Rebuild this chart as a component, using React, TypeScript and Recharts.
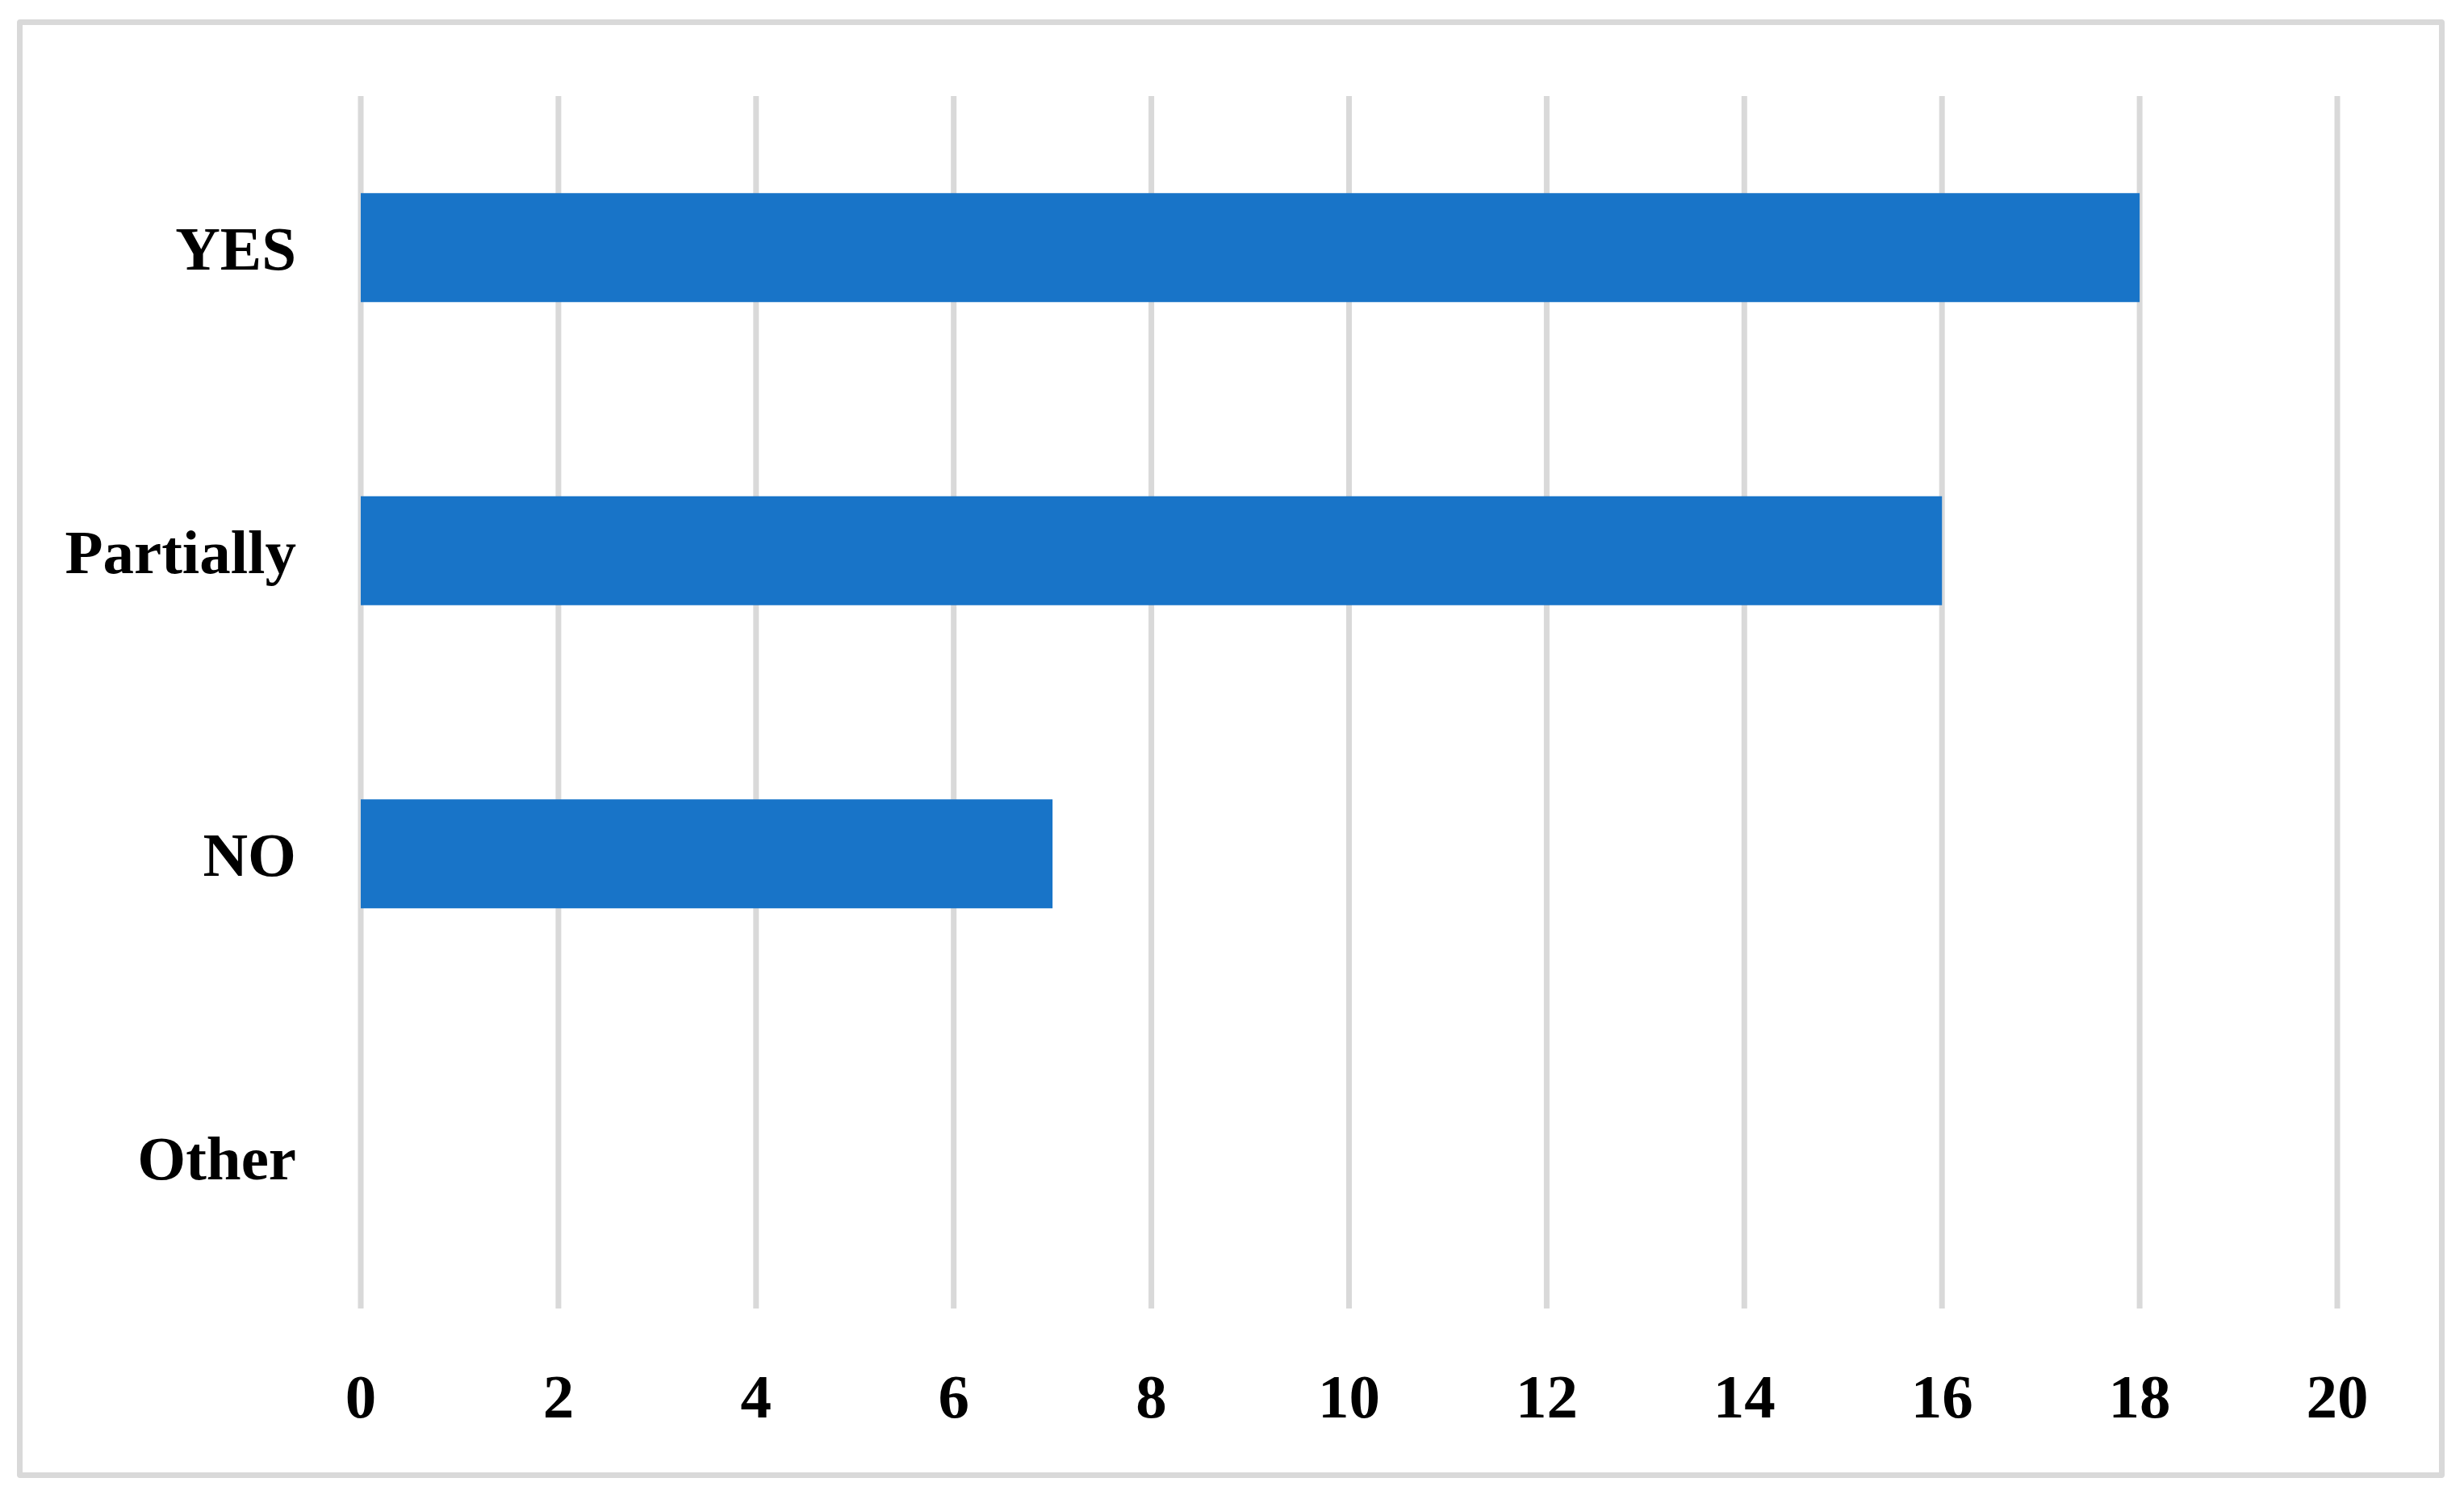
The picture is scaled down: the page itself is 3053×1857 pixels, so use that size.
import React from "react"
import { BarChart, Bar, XAxis, YAxis, CartesianGrid } from "recharts"

const categories = ["YES", "Partially", "NO", "Other"]
const counts = [18, 16, 7, 0]
const xTicks = [0, 2, 4, 6, 8, 10, 12, 14, 16, 18, 20]

const data = categories.map((name, i) => ({ name, value: counts[i] }))

const labelFont = {
  fontFamily: "'Liberation Serif', 'DejaVu Serif', serif",
  fontWeight: 700,
  fontSize: 77,
  fill: "#000000",
}

export default function App() {
  return (
    <div style={{ position: "absolute", left: 0, top: 0, width: 3053, height: 1857, background: "#ffffff" }}>
      {/* frame */}
      <div
        style={{
          position: "absolute",
          left: 21,
          top: 24,
          width: 3008 - 14,
          height: 1807 - 14,
          border: "7px solid #d9d9d9",
          borderRadius: 4,
        }}
      />
      <div style={{ position: "absolute", left: 0, top: 0 }}>
        <BarChart
          width={3053}
          height={1857}
          data={data}
          layout="vertical"
          margin={{ top: 119, right: 157, bottom: 0, left: 0 }}
          barCategoryGap="32%"
        >
          <CartesianGrid horizontal={false} vertical stroke="#d9d9d9" strokeWidth={7} />
          <XAxis
            type="number"
            domain={[0, 20]}
            ticks={xTicks}
            interval={0}
            axisLine={false}
            tickLine={false}
            tickSize={0}
            tickMargin={80}
            height={236}
            tick={labelFont}
          />
          <YAxis
            type="category"
            dataKey="name"
            width={447}
            axisLine={false}
            tickLine={false}
            tickSize={0}
            tickMargin={80}
            tick={labelFont}
          />
          <Bar dataKey="value" fill="#1874c8" isAnimationActive={false} />
        </BarChart>
      </div>
    </div>
  )
}
